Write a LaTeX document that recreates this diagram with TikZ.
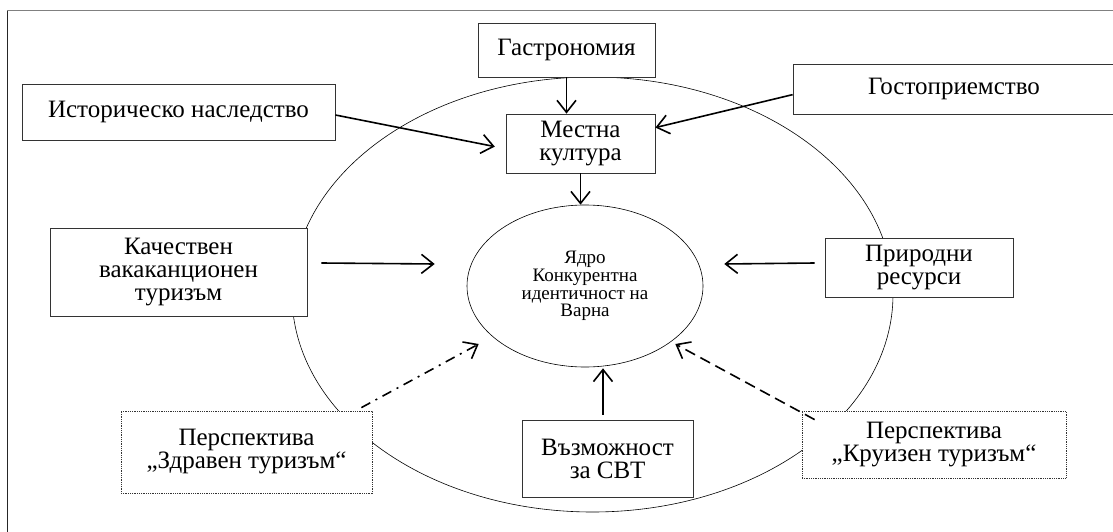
\documentclass[tikz,border=0pt]{standalone}
\usepackage{fontspec}
\setmainfont{Liberation Serif}
\usetikzlibrary{shapes.geometric,arrows.meta,calc}
\tikzset{
  box/.style={rectangle, draw=black!80, line width=0.8pt, fill=white, inner sep=0pt, align=center,
    font=\fontsize{25}{23}\selectfont},
  dotbox/.style={box, dash pattern=on 0.9pt off 0.9pt},
  arr/.style={line width=1.6pt, -{Straight Barb[length=12pt,width=19pt,line width=1.6pt]}},
}
\begin{document}
\begin{tikzpicture}[x=1pt,y=-1pt]
\useasboundingbox (0,0) rectangle (1113,532);
% page frame (only left and top edges visible)
\coordinate (fa) at (7,532);
\coordinate (fb) at (7,11);
\coordinate (fc) at (1113,11);
\draw[black!85, line width=0.9pt] (fa) -- (fb);
\draw[black!50, line width=1pt] (fb) -- (fc);
% outer ellipse
\node[ellipse, draw, line width=0.6pt, minimum width=601pt, minimum height=435pt, inner sep=0pt] (outer) at (592.5,294.5) {};
% core
\node[ellipse, draw, line width=0.6pt, fill=white, minimum width=236pt, minimum height=162pt, inner sep=0pt, align=center,
  font=\fontsize{19}{17.7}\selectfont] (core) at (585,286) {Ядро\\Конкурентна\\идентичност на\\Варна};
% boxes
\node[box, minimum width=313pt, minimum height=56pt] (hist) at (178.5,112) {Историческо наследство};
\node[box, minimum width=177pt, minimum height=54pt] (gast) at (566.5,50) {Гастрономия};
\node[box, minimum width=149pt, minimum height=59pt] (mest) at (580.5,143.5) {Местна\\култура};
\node[box, minimum width=322pt, minimum height=50pt] (gost) at (954,89) {Гостоприемство};
\node[box, minimum width=257pt, minimum height=88pt] (kach) at (178.5,272) {Качествен\\вакаканционен\\туризъм};
\node[box, minimum width=188pt, minimum height=59pt] (prir) at (919,267.5) {Природни\\ресурси};
\node[box, minimum width=171pt, minimum height=77pt] (voz) at (607.5,458.5) {Възможност\\за СВТ};
\node[dotbox, minimum width=251pt, minimum height=82pt] (zdr) at (246.5,452) {Перспектива\\„Здравен туризъм“};
\node[dotbox, minimum width=264pt, minimum height=67pt] (kru) at (934,444.5) {Перспектива\\„Круизен туризъм“};
% connectors
\draw[arr] (gast.south) -- (gast.south |- mest.north);
\draw[arr] (mest.south) -- (mest.south |- core.north);
\draw[arr, shorten >=11pt] ($(hist.east)+(0,3)$) -- (mest.184);
\draw[arr] (gost.182) -- (mest.12);
\draw[arr] ($(kach.east)+(14,-9)$) -- ($(core.west)+(-32,-22)$);
\draw[arr] ($(prir.west)+(-10,-4.5)$) -- ($(core.east)+(21,-22)$);
\draw[arr] ($(voz.north)+(-4.5,-5)$) -- ($(core.south)+(18,1)$);
\draw[arr, dash pattern=on 10pt off 6pt on 2pt off 6pt] ($(zdr.north east)+(-11,-3)$) -- ($(core.west)+(12,58)$);
\draw[arr, dash pattern=on 11pt off 6pt] ($(kru.north west)+(13,9)$) -- ($(core.east)+(-28,58)$);
\end{tikzpicture}
\end{document}
